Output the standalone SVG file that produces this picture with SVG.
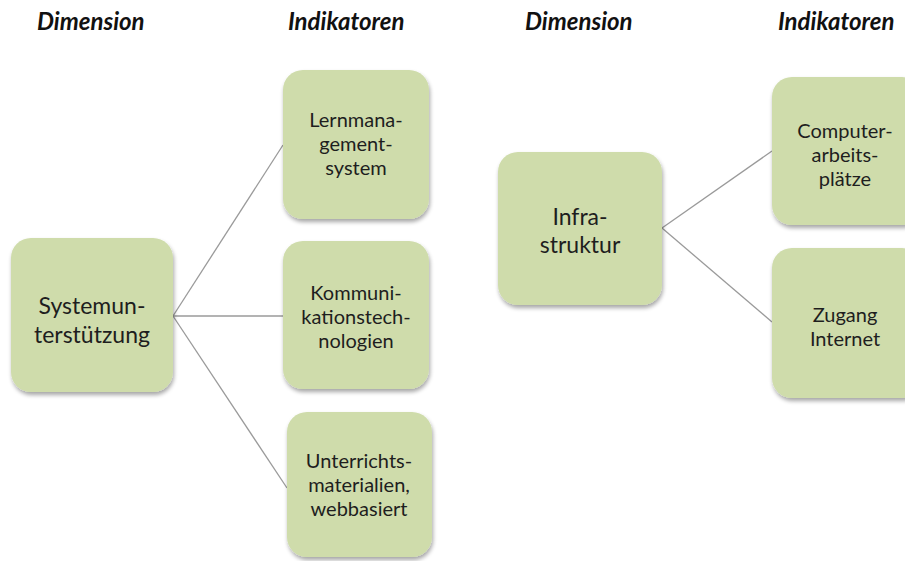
<svg xmlns="http://www.w3.org/2000/svg" width="905" height="561" viewBox="0 0 905 561">
<defs>
<filter id="sh" x="-10%" y="-10%" width="130%" height="130%">
<feGaussianBlur in="SourceAlpha" stdDeviation="2"/>
<feOffset dx="1" dy="3" result="b"/>
<feComponentTransfer><feFuncA type="linear" slope="0.35"/></feComponentTransfer>
<feMerge><feMergeNode/><feMergeNode in="SourceGraphic"/></feMerge>
</filter>
</defs>
<style>
.box{fill:#cfdcab;filter:url(#sh)}
.t{font-family:Lato,"Liberation Sans",sans-serif;font-size:20px;fill:#1e1e1e;text-anchor:middle}
.d{font-size:23px}
.h{font-family:Lato,"Liberation Sans",sans-serif;font-size:24px;font-weight:bold;font-style:italic;fill:#111}
.c{stroke:#9a9a9a;stroke-width:1.3;fill:none}
</style>
<rect width="905" height="561" fill="#fff"/>
<g id="headers">
<text class="h" x="37" y="30">Dimension</text>
<text class="h" x="288" y="30">Indikatoren</text>
<text class="h" x="525" y="30">Dimension</text>
<text class="h" x="778" y="30">Indikatoren</text>
</g>
<g id="connectors">
<line class="c" x1="173" y1="316" x2="283" y2="145"/>
<line class="c" x1="173" y1="316" x2="283" y2="316"/>
<line class="c" x1="173" y1="316" x2="287" y2="488"/>
<line class="c" x1="662" y1="228" x2="772" y2="151"/>
<line class="c" x1="662" y1="228" x2="772" y2="322"/>
</g>
<g id="systemunterstuetzung">
<rect class="box" x="11" y="238" width="162" height="154" rx="20"/>
<text class="t d" x="92" y="314">Systemun-</text>
<text class="t d" x="92" y="343">terstützung</text>
</g>
<g id="lernmanagement">
<rect class="box" x="283" y="70" width="146" height="149" rx="20"/>
<text class="t" x="356" y="127">Lernmana-</text>
<text class="t" x="356" y="151">gement-</text>
<text class="t" x="356" y="175">system</text>
</g>
<g id="kommunikation">
<rect class="box" x="283" y="241" width="146" height="148" rx="20"/>
<text class="t" x="356" y="300">Kommuni-</text>
<text class="t" x="356" y="324">kationstech-</text>
<text class="t" x="356" y="348">nologien</text>
</g>
<g id="unterrichtsmaterialien">
<rect class="box" x="287" y="412" width="145" height="145" rx="20"/>
<text class="t" x="359" y="468">Unterrichts-</text>
<text class="t" x="359" y="492">materialien,</text>
<text class="t" x="359" y="516">webbasiert</text>
</g>
<g id="infrastruktur">
<rect class="box" x="498" y="152" width="164" height="153" rx="20"/>
<text class="t d" x="580" y="225">Infra-</text>
<text class="t d" x="580" y="253">struktur</text>
</g>
<g id="computerarbeitsplaetze">
<rect class="box" x="772" y="77" width="150" height="148" rx="20"/>
<text class="t" x="845" y="138">Computer-</text>
<text class="t" x="845" y="162">arbeits-</text>
<text class="t" x="845" y="186">plätze</text>
</g>
<g id="zugang">
<rect class="box" x="772" y="248" width="150" height="150" rx="20"/>
<text class="t" x="845" y="322">Zugang</text>
<text class="t" x="845" y="346">Internet</text>
</g>
</svg>
